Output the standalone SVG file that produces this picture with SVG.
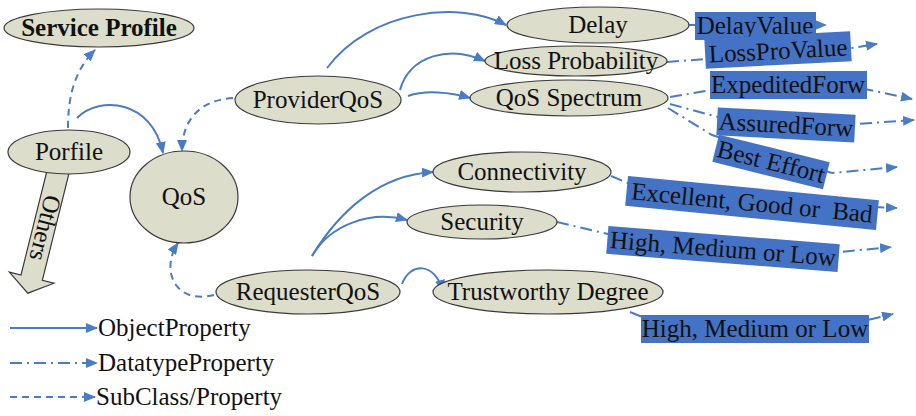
<svg xmlns="http://www.w3.org/2000/svg" width="916" height="416" viewBox="0 0 916 416">
<defs>
<marker id="ah" viewBox="0 0 12 10" refX="11" refY="5" markerWidth="12" markerHeight="10" markerUnits="userSpaceOnUse" orient="auto">
<path d="M0,0 L12,5 L0,10 z" fill="#4A7CC4"/>
</marker>
<style>
.n ellipse{fill:#DCDDCB;stroke:#3a3a3a;stroke-width:1.2}
.t{font-family:"Liberation Serif","Times New Roman",serif;font-size:25px;fill:#111;text-anchor:middle}
.tl{font-family:"Liberation Serif","Times New Roman",serif;font-size:25px;fill:#111}
.b rect{fill:#4472C4}
.c path{fill:none;stroke:#4A7CC4;stroke-width:2}
.obj{marker-end:url(#ah)}
.sub{stroke-dasharray:7 5;marker-end:url(#ah)}
.dt{stroke-dasharray:12 5 2 5}
</style>
</defs>
<rect width="916" height="416" fill="#fff"/>

<g id="connectors" class="c">
<path class="obj" d="M77,118 C100,95 152,100 163,153"/>
<path class="obj" d="M327,68 C370,10 460,0 506,25"/>
<path class="obj" d="M400,90 C410,55 450,45 485,61"/>
<path class="obj" d="M408,96 C425,90 450,92 470,98"/>
<path class="obj" d="M312,256 C340,210 380,175 433,172"/>
<path class="obj" d="M312,256 C330,225 370,210 407,220"/>
<path class="obj" d="M402,284 C410,262 435,262 443,291"/>
<path class="sub" d="M68,128 C68,95 75,70 95,50"/>
<path class="sub" d="M233,98 C200,100 182,120 182,151"/>
<path class="sub" d="M214,295 C175,305 160,270 178,243"/>
<path class="dt obj" d="M689,25 L826,25"/>
<path class="dt obj" d="M667,62 L852,48 L877,44"/>
<path class="dt obj" d="M670,97 L712,90 L865,89 L912,99"/>
<path class="dt obj" d="M670,104 L718,117 L856,124 L914,120"/>
<path class="dt obj" d="M668,108 L712,135 L832,173 L897,167"/>
<path class="dt obj" d="M611,176 L630,184 L875,207 L897,208"/>
<path class="dt obj" d="M557,222 L612,235 L840,252 L891,247"/>
<path class="dt obj" d="M630,312 L645,318 L868,320 L893,314"/>
<path class="obj" d="M10,328 L97,328"/>
<path class="dt obj" d="M10,363 L97,363"/>
<path class="sub" d="M10,397 L95,397"/>
</g>

<g id="others">
<polygon transform="translate(59,168) rotate(14)" points="-11,0 11,0 11,113 23,113 0,129 -23,113 -11,113" fill="#DCDDCB" stroke="#3a3a3a" stroke-width="1.2"/>
<text class="t" transform="translate(45,228) rotate(104)" y="8">Others</text>
</g>

<g id="serviceProfile" class="n"><ellipse cx="99" cy="28" rx="95" ry="19"/><text class="t" x="99" y="36" font-weight="bold">Service Profile</text></g>
<g id="porfile" class="n"><ellipse cx="69" cy="152" rx="61" ry="22"/><text class="t" x="69" y="160">Porfile</text></g>
<g id="qos" class="n"><ellipse cx="184" cy="197" rx="54" ry="46"/><text class="t" x="184" y="205">QoS</text></g>
<g id="providerQoS" class="n"><ellipse cx="318" cy="100" rx="83" ry="24"/><text class="t" x="318" y="108">ProviderQoS</text></g>
<g id="delay" class="n"><ellipse cx="598" cy="25" rx="91" ry="18"/><text class="t" x="598" y="33">Delay</text></g>
<g id="lossProbability" class="n"><ellipse cx="576" cy="61" rx="91" ry="15"/><text class="t" x="576" y="69">Loss Probability</text></g>
<g id="qosSpectrum" class="n"><ellipse cx="569" cy="98" rx="99" ry="18"/><text class="t" x="569" y="106">QoS Spectrum</text></g>
<g id="connectivity" class="n"><ellipse cx="522" cy="172" rx="89" ry="20"/><text class="t" x="522" y="180">Connectivity</text></g>
<g id="security" class="n"><ellipse cx="482" cy="222" rx="75" ry="17"/><text class="t" x="482" y="230">Security</text></g>
<g id="requesterQoS" class="n"><ellipse cx="308" cy="292" rx="92" ry="22"/><text class="t" x="308" y="300">RequesterQoS</text></g>
<g id="trustworthyDegree" class="n"><ellipse cx="548" cy="292" rx="115" ry="22"/><text class="t" x="548" y="300">Trustworthy Degree</text></g>

<g id="delayValue" class="b"><rect x="695" y="12" width="121" height="28"/><text class="t" x="755" y="34">DelayValue</text></g>
<g id="lossProValue" class="b" transform="translate(778,50) rotate(-3)"><rect x="-73" y="-15" width="146" height="30"/><text class="t" x="0" y="9">LossProValue</text></g>
<g id="expeditedForw" class="b"><rect x="710" y="71" width="157" height="28"/><text class="t" x="788" y="93">ExpeditedForw</text></g>
<g id="assuredForw" class="b" transform="translate(786,125) rotate(3)"><rect x="-69" y="-14" width="138" height="28"/><text class="t" x="0" y="8">AssuredForw</text></g>
<g id="bestEffort" class="b" transform="translate(771,162) rotate(14)"><rect x="-57" y="-14" width="114" height="28"/><text class="t" x="0" y="8">Best Effort</text></g>
<g id="excellent" class="b" transform="translate(752,203) rotate(5.5)"><rect x="-126" y="-15" width="252" height="30"/><text class="t" x="0" y="8" xml:space="preserve">Excellent, Good or  Bad</text></g>
<g id="highSecurity" class="b" transform="translate(723,249) rotate(4.5)"><rect x="-116" y="-14" width="232" height="28"/><text class="t" x="0" y="8">High, Medium or Low</text></g>
<g id="highTrust" class="b"><rect x="641" y="315" width="228" height="28"/><text class="t" x="755" y="337">High, Medium or Low</text></g>

<g id="legend">
<text class="tl" x="98" y="336">ObjectProperty</text>
<text class="tl" x="98" y="371">DatatypeProperty</text>
<text class="tl" x="96" y="405">SubClass/Property</text>
</g>
</svg>
